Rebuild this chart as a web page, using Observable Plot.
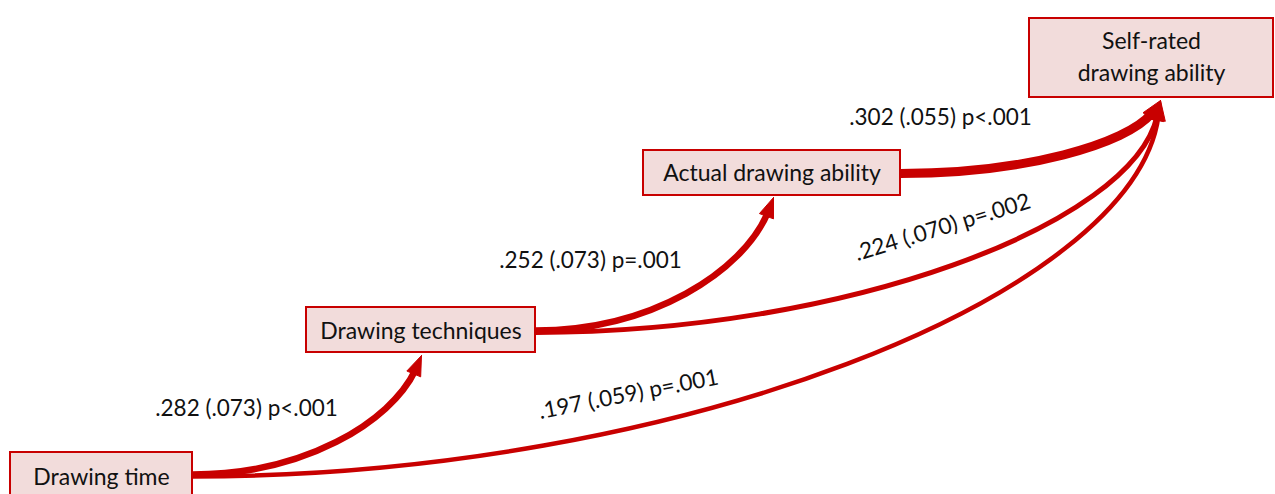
<!DOCTYPE html>
<html><head><meta charset="utf-8">
<script src="https://cdn.jsdelivr.net/npm/d3@7"></script>
<script src="https://cdn.jsdelivr.net/npm/@observablehq/plot@0.6"></script>
<style>html,body{margin:0;padding:0;background:#fff;overflow:hidden}</style>
</head><body><div id="chart"></div>
<script>
// ---- data ----
const nodes = ["Drawing time", "Drawing techniques", "Actual drawing ability", "Self-rated\ndrawing ability"];
const edgeFrom = [0, 1, 1, 2, 0];
const edgeTo = [1, 2, 3, 3, 3];
const coef = [".282", ".252", ".224", ".302", ".197"];
const se = [".073", ".073", ".070", ".055", ".059"];
const pval = ["p<.001", "p=.001", "p=.002", "p<.001", "p=.001"];

// ---- layout (diagram units = pixels) ----
const boxX1 = [10, 306, 643, 1029], boxX2 = [192, 535, 900, 1273];
const boxY1 = [452, 307, 150, 18], boxY2 = [502, 352, 195, 97];
const textY = [474, 328, 170, 54];
const edgeStart = [[192, 474], [535, 330], [535, 332], [900, 173], [192, 476]];
const edgeTip = [[421, 355], [773, 197], [1160, 100], [1160, 100], [1160, 100]];
const edgeWidth = [6.5, 6.5, 5, 9, 4.5];
const labelPos = [[246, 408], [590, 260], [942, 227], [940, 117], [628, 394]];
const labelRotate = [0, 0, -17, 0, -11];

const RED = "#c80000";
const FONT = "Lato, 'Open Sans', sans-serif";
const LEVER = 25, AL = 20, AW = 15;

// custom curve: leaves horizontally, arrives nearly vertically
function curveHV(context) {
  let pts;
  return {
    areaStart() {}, areaEnd() {},
    lineStart() { pts = []; },
    point(x, y) { pts.push([+x, +y]); },
    lineEnd() {
      const [x0, y0] = pts[0], [x1, y1] = pts[pts.length - 1];
      context.moveTo(x0, y0);
      context.bezierCurveTo(x0 + (x1 - x0) / 2, y0, x1 - LEVER, y1 + (y0 - y1) / 2, x1, y1);
    }
  };
}

const boxes = nodes.map((name, i) => ({
  name, x1: boxX1[i], x2: boxX2[i], y1: boxY1[i], y2: boxY2[i],
  cx: (boxX1[i] + boxX2[i]) / 2, cy: textY[i]
}));

const edges = edgeFrom.map((f, i) => {
  const [x0, y0] = edgeStart[i], [tx, ty] = edgeTip[i];
  let ux = LEVER, uy = -(y0 - ty) / 2;
  const n = Math.hypot(ux, uy); ux /= n; uy /= n;
  const bx = tx - AL * ux, by = ty - AL * uy;
  return {
    i, from: nodes[f], to: nodes[edgeTo[i]], x0, y0, tx, ty, ux, uy, bx, by,
    ex: bx + 4 * ux, ey: by + 4 * uy, w: edgeWidth[i],
    label: `${coef[i]} (${se[i]}) ${pval[i]}`,
    lx: labelPos[i][0], ly: labelPos[i][1], rot: labelRotate[i]
  };
});

const heads = edges.flatMap(e => {
  const nx = -e.uy, ny = e.ux;
  return [
    {i: e.i, x: e.tx, y: e.ty},
    {i: e.i, x: e.bx + nx * AW / 2, y: e.by + ny * AW / 2},
    {i: e.i, x: e.bx - nx * AW / 2, y: e.by - ny * AW / 2},
    {i: e.i, x: e.tx, y: e.ty}
  ];
});

const chart = Plot.plot({
  width: 1275, height: 494, margin: 0,
  x: {domain: [0, 1275], range: [0, 1275], axis: null},
  y: {domain: [0, 494], range: [0, 494], axis: null},
  style: {background: "#fff"},
  marks: [
    Plot.link(edges, {x1: "x0", y1: "y0", x2: "ex", y2: "ey", stroke: RED, strokeWidth: "w", curve: curveHV}),
    Plot.line(heads, {x: "x", y: "y", z: "i", fill: RED, stroke: RED, strokeWidth: 1}),
    Plot.rect(boxes, {x1: "x1", x2: "x2", y1: "y1", y2: "y2", fill: "#f2dcdb", stroke: RED, strokeWidth: 2}),
    Plot.text(boxes, {x: "cx", y: "cy", text: "name", fontSize: 23, lineHeight: 1.4, fontFamily: FONT, fill: "#111"}),
    Plot.text(edges, {x: "lx", y: "ly", text: "label", rotate: "rot", fontSize: 22.5, fontFamily: FONT, fill: "#111"})
  ]
});
document.getElementById("chart").appendChild(chart);
</script>
</body></html>
